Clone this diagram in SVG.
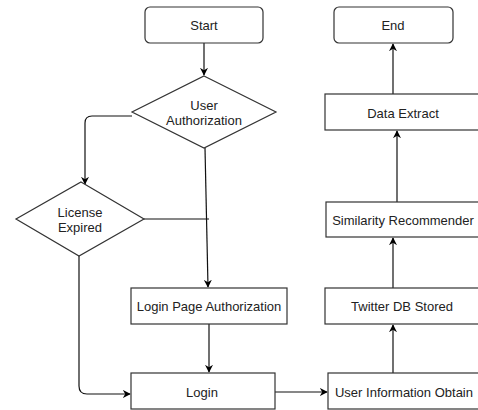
<svg xmlns="http://www.w3.org/2000/svg" width="478" height="410" viewBox="0 0 478 410">
<defs>
<marker id="arr" viewBox="0 0 10 10" refX="9" refY="5" markerWidth="8" markerHeight="8" markerUnits="userSpaceOnUse" orient="auto">
<path d="M0,0 L10,5 L0,10 L3,5 Z" fill="#000"/>
</marker>
<style>
.box{fill:#fff;stroke:#333;stroke-width:1.2}
.lbl{font-family:"Liberation Sans",Arial,sans-serif;font-size:13px;fill:#222;text-anchor:middle;dominant-baseline:central}
.con{fill:none;stroke:#111;stroke-width:1.2}
</style>
</defs>
<rect width="478" height="410" fill="#fff"/>
<g id="connectors">
<line class="con" x1="204" y1="43" x2="204" y2="75" marker-end="url(#arr)"/>
<path class="con" d="M132,116 L92,116 Q85,116 85,123 L85,184" marker-end="url(#arr)"/>
<line class="con" x1="144" y1="219" x2="209" y2="219"/>
<line class="con" x1="205" y1="148" x2="208" y2="287" marker-end="url(#arr)"/>
<line class="con" x1="209" y1="324" x2="209" y2="372" marker-end="url(#arr)"/>
<path class="con" d="M79,256 L79,386 Q79,394 87,394 L130,394" marker-end="url(#arr)"/>
<line class="con" x1="275" y1="392" x2="327" y2="392" marker-end="url(#arr)"/>
<line class="con" x1="393" y1="373" x2="393" y2="325" marker-end="url(#arr)"/>
<line class="con" x1="393" y1="288" x2="393" y2="238" marker-end="url(#arr)"/>
<line class="con" x1="397" y1="202" x2="397" y2="131" marker-end="url(#arr)"/>
<line class="con" x1="393" y1="94" x2="393" y2="44" marker-end="url(#arr)"/>
</g>
<g id="start"><rect class="box" x="145" y="7" width="118" height="36" rx="5"/><text class="lbl" x="204" y="25">Start</text></g>
<g id="userAuth"><polygon class="box" points="204,76 276,112 204,148 132,112"/><text class="lbl" x="204" y="105">User</text><text class="lbl" x="204" y="120">Authorization</text></g>
<g id="license"><polygon class="box" points="81,182 144,219 79,256 16,219"/><text class="lbl" x="80" y="212">License</text><text class="lbl" x="80" y="227">Expired</text></g>
<g id="loginPage"><rect class="box" x="131" y="288" width="156" height="36"/><text class="lbl" x="209" y="306">Login Page Authorization</text></g>
<g id="login"><rect class="box" x="131" y="373" width="144" height="36"/><text class="lbl" x="202" y="392">Login</text></g>
<g id="userInfo"><rect class="box" x="328" y="373" width="160" height="36"/><text class="lbl" x="404" y="392">User Information Obtain</text></g>
<g id="twitterDB"><rect class="box" x="325" y="288" width="163" height="36"/><text class="lbl" x="402" y="306">Twitter DB Stored</text></g>
<g id="similarity"><rect class="box" x="326" y="202" width="162" height="35"/><text class="lbl" x="403" y="220">Similarity Recommender</text></g>
<g id="dataExtract"><rect class="box" x="325" y="94" width="163" height="36"/><text class="lbl" x="403" y="113">Data Extract</text></g>
<g id="end"><rect class="box" x="334" y="7" width="119" height="36" rx="5"/><text class="lbl" x="393" y="25">End</text></g>
</svg>
